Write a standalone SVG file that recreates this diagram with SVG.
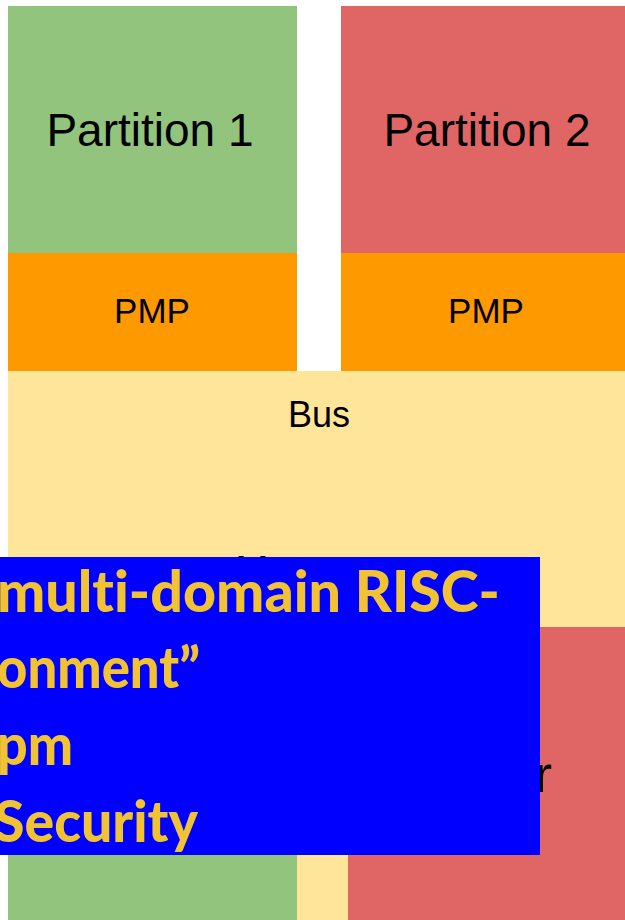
<svg xmlns="http://www.w3.org/2000/svg" width="625" height="920" viewBox="0 0 625 920">
  <style>
    .lbl { font-family: "Liberation Sans", Arial, sans-serif; fill: #000; text-anchor: middle; }
    .green { fill: #93C47D; }
    .red { fill: #E06666; }
    .orange { fill: #FF9900; }
    .beige { fill: #FFE599; }
    .banner-text { font-family: Lato, "Open Sans", sans-serif; font-weight: 900; font-size: 58px; fill: #F1C232; font-variant-ligatures: none; }
  </style>
  <rect width="625" height="920" fill="#FFFFFF"/>

  <!-- shared bus area, continuing down between the lower blocks -->
  <g id="bus">
    <rect class="beige" x="8" y="371" width="625" height="549"/>
    <text class="lbl" x="319" y="427" font-size="36">Bus</text>
  </g>

  <g id="partition1">
    <rect class="green" x="8" y="6" width="289" height="247"/>
    <text class="lbl" x="150" y="146" font-size="46">Partition 1</text>
  </g>
  <g id="partition2">
    <rect class="red" x="341" y="6" width="292" height="247"/>
    <text class="lbl" x="487" y="146" font-size="46">Partition 2</text>
  </g>

  <g id="pmp1">
    <rect class="orange" x="8" y="253" width="289" height="118"/>
    <text class="lbl" x="152" y="323" font-size="35">PMP</text>
  </g>
  <g id="pmp2">
    <rect class="orange" x="341" y="253" width="292" height="118"/>
    <text class="lbl" x="486" y="323" font-size="35">PMP</text>
  </g>

  <g id="memory">
    <text class="lbl" x="252" y="584" font-size="40">M</text>
  </g>

  <g id="lower-left">
    <rect class="green" x="8" y="640" width="289" height="280"/>
  </g>
  <g id="lower-right">
    <rect class="red" x="348" y="627" width="285" height="293"/>
    <text class="lbl" x="552" y="792" font-size="52" style="text-anchor:end">r</text>
  </g>

  <!-- title banner laid over the blocks -->
  <g id="banner">
    <rect x="0" y="557" width="540" height="298" fill="#0000FF"/>
    <text class="banner-text" x="-3" y="612" textLength="503" lengthAdjust="spacingAndGlyphs">multi-domain RISC-</text>
    <text class="banner-text" x="-3" y="688" textLength="203" lengthAdjust="spacingAndGlyphs">onment”</text>
    <text class="banner-text" x="-3" y="765" textLength="76" lengthAdjust="spacingAndGlyphs">pm</text>
    <text class="banner-text" x="-6" y="842" textLength="204" lengthAdjust="spacingAndGlyphs">Security</text>
  </g>
</svg>
